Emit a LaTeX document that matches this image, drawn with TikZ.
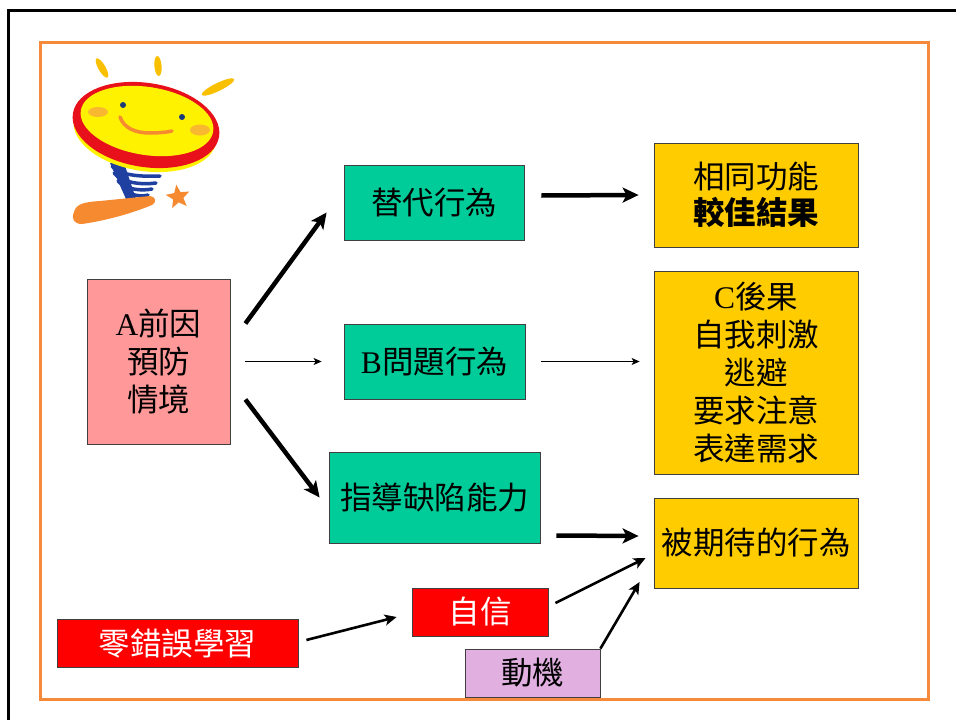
\documentclass[tikz,border=0pt]{standalone}
\usepackage{fontspec}
\setmainfont{Liberation Serif}
\newfontfamily\cjk{Noto Sans CJK TC}
\newfontfamily\latfont{Liberation Serif}
\newcommand\lat[1]{{\latfont #1}}
\usetikzlibrary{arrows.meta,calc,shapes.geometric}

\definecolor{framecol}{HTML}{F58A3A}
\definecolor{boxgreen}{HTML}{00CC99}
\definecolor{boxgold}{HTML}{FFCC00}
\definecolor{boxpink}{HTML}{FF9999}
\definecolor{boxred}{HTML}{FF0000}
\definecolor{boxlilac}{HTML}{E1B0E1}
\definecolor{rayyellow}{HTML}{F8C000}
\definecolor{faceyellow}{HTML}{FFF200}
\definecolor{ringred}{HTML}{E8101A}
\definecolor{cheek}{HTML}{F8B830}
\definecolor{eyeblue}{HTML}{1A3A7A}
\definecolor{springblue}{HTML}{1F40A0}
\definecolor{footorange}{HTML}{F58A30}

\tikzset{
  card/.style={draw=black!75, line width=0.8pt, inner sep=0pt, align=center,
    font=\cjk\fontsize{31.5}{38}\selectfont},
  greenbox/.style={card, fill=boxgreen},
  goldbox/.style={card, fill=boxgold},
  redbox/.style={card, fill=boxred, text=white},
  heavyarrow/.style={line width=4.5pt, -{Stealth[length=16pt,width=15pt,inset=4pt]}},
  midarrow/.style={line width=2.6pt, -{Stealth[length=12pt,width=11pt,inset=3pt]}},
  thinarrow/.style={line width=0.9pt, -{Stealth[length=8pt,width=7pt,inset=2pt]}},
}

\begin{document}
\begin{tikzpicture}[x=1pt,y=-1pt]
\useasboundingbox (0,0) rectangle (956,720);
\fill[white] (0,0) rectangle (956,720);

% slide frames
\draw[line width=3pt, black] (8.5,10.5) rectangle (975,740);
\draw[line width=3pt, framecol] (40,42) rectangle (928,699);

% ---- sun mascot ----
\fill[rayyellow, rotate around={-60:(102,68)}] (102,68) ellipse (11 and 3.6);
\fill[rayyellow, rotate around={95:(158,66)}] (158,66) ellipse (10 and 3.6);
\fill[rayyellow, rotate around={26:(218,87)}] (218,87) ellipse (18 and 4);
% spring
\begin{scope}[springblue, line width=3.5pt, line cap=round]
  \fill (110,163) -- (124,163) -- (136,199) -- (126,199) -- cycle;
  \draw (112,166) .. controls (118,175) and (140,177) .. (160,176);
  \draw (114,173) .. controls (122,183) and (142,185) .. (156,183);
  \draw (118,181) .. controls (126,190) and (142,191) .. (152,189);
  \draw (123,188) .. controls (130,196) and (142,197) .. (148,195);
  \draw (128,195) .. controls (132,200) and (140,201) .. (144,200);
\end{scope}
% foot
\fill[footorange] (74,212) .. controls (76,204) and (84,202) .. (100,201)
  -- (150,196) .. controls (156,197) and (157,202) .. (152,205)
  .. controls (135,212) and (110,220) .. (82,224)
  .. controls (74,224) and (71,219) .. (74,212) -- cycle;
\node[star, star points=5, star point ratio=2.3, fill=footorange, draw=none,
  minimum size=25pt, inner sep=0pt, rotate=8] (logostar) at (178,197) {};
% face
\fill[faceyellow, rotate around={-9:(145,131)}] (145,131) ellipse (72 and 40);
\fill[ringred, rotate around={-9:(146,125)}] (146,125) ellipse (74 and 42);
\fill[faceyellow, rotate around={-9:(147,121)}] (147,121) ellipse (67 and 34);
\fill[cheek] (98,112) ellipse (10 and 5);
\fill[cheek] (200,130) ellipse (10 and 5.5);
\fill[eyeblue] (123,105) circle (3);
\fill[eyeblue] (182,117) circle (3);
\draw[footorange, line width=3.5pt, line cap=round]
  (120,117) .. controls (124,128) and (135,133) .. (150,133)
  .. controls (160,133) and (168,132) .. (172,131);

% ---- boxes ----
\node[card, fill=boxpink, minimum width=143pt, minimum height=165pt] (cause) at (158.5,361.5)
  {\lat{A}前因\\預防\\情境};
\node[greenbox, minimum width=180pt, minimum height=75pt] (repl) at (434,202.5) {替代行為};
\node[greenbox, minimum width=181pt, minimum height=75pt] (prob) at (434.5,361.5) {\lat{B}問題行為};
\node[greenbox, minimum width=211pt, minimum height=91pt] (teach) at (434.5,497.5) {指導缺陷能力};
\node[goldbox, minimum width=204pt, minimum height=104pt, font=\cjk\fontsize{31.5}{36}\selectfont]
  (same) at (756,195) {相同功能\\{\bfseries 較佳結果}};
\node[goldbox, minimum width=204pt, minimum height=203pt] (conseq) at (756,372.5)
  {\lat{C}後果\\自我刺激\\逃避\\要求注意\\表達需求};
\node[goldbox, minimum width=204pt, minimum height=90pt] (expect) at (756,543) {被期待的行為};
\node[redbox, minimum width=241pt, minimum height=48pt] (errless) at (177.5,643) {零錯誤學習};
\node[redbox, minimum width=136pt, minimum height=48pt] (conf) at (480,612) {自信};
\node[card, fill=boxlilac, minimum width=135pt, minimum height=48pt] (motiv) at (532.5,673) {動機};

% ---- connectors ----
\draw[heavyarrow] ($(cause.east)+(15,-38)$) -- ($(repl.west)+(-17,10)$);
\draw[thinarrow] ($(cause.east)+(15,0)$) -- ($(prob.west)+(-22,0)$);
\draw[heavyarrow] ($(cause.east)+(15,38)$) -- ($(teach.west)+(-9,0)$);
\draw[heavyarrow] ($(repl.east)+(17,-7)$) -- ($(same.west)+(-15,0)$);
\draw[thinarrow] ($(prob.east)+(16,0)$) -- ($(conseq.west)+(-14,-11)$);
\draw[heavyarrow] ($(teach.east)+(16,38)$) -- ($(expect.west)+(-15,-7)$);
\draw[midarrow] ($(errless.east)+(8,-3)$) -- ($(conf.west)+(-15,5)$);
\draw[midarrow] ($(conf.east)+(7,-9)$) -- ($(expect.west)+(-8,15)$);
\draw[midarrow] (motiv.north east) -- ($(expect.west)+(-14,39)$);
\end{tikzpicture}
\end{document}
